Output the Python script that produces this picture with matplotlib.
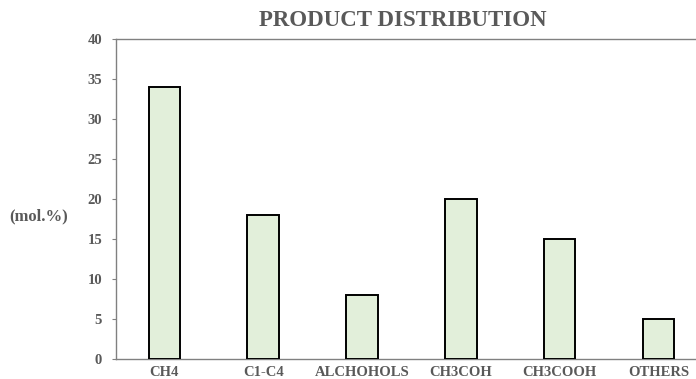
import matplotlib
matplotlib.use("Agg")
import matplotlib.pyplot as plt

categories = ["CH4", "C1-C4", "ALCHOHOLS", "CH3COH", "CH3COOH", "OTHERS"]
values = [34, 18, 8, 20, 15, 5]
yticks = [0, 5, 10, 15, 20, 25, 30, 35, 40]

plt.rcParams['font.family'] = ['Liberation Serif', 'DejaVu Serif']
txt = '#595959'

fig = plt.figure(figsize=(6.96, 3.79), dpi=100)
ax = fig.add_axes([116/696, 1-359/379, 1-116/696 + 0.01, (359-39)/379])
x = list(range(len(categories)))
ax.bar(x, values, width=0.32, color='#E2EFDA', edgecolor='black', linewidth=1.4, zorder=3)
ax.set_xlim(-0.49, 5.45)
ax.set_ylim(0, 40)
ax.set_yticks(yticks)
ax.set_yticklabels([str(v) for v in yticks], fontsize=10.5, fontweight='bold', color=txt)
ax.set_xticks(x)
ax.set_xticklabels(categories, fontsize=10.5, fontweight='bold', color=txt)
ax.tick_params(axis='x', length=0, pad=5)
ax.tick_params(axis='y', length=3, width=0.8, color='#808080', pad=7)
for s in ['left', 'bottom', 'top']:
    ax.spines[s].set_color('#808080')
    ax.spines[s].set_linewidth(1.0)
ax.spines['right'].set_visible(False)
fig.text(403/696, 1-20/379, "PRODUCT DISTRIBUTION", ha='center', va='center',
         fontsize=16.5, fontweight='bold', color=txt)
fig.text(39/696, 1-216/379, "(mol.%)", ha='center', va='center',
         fontsize=12, fontweight='bold', color=txt)
fig.savefig("out.png", dpi=100)
